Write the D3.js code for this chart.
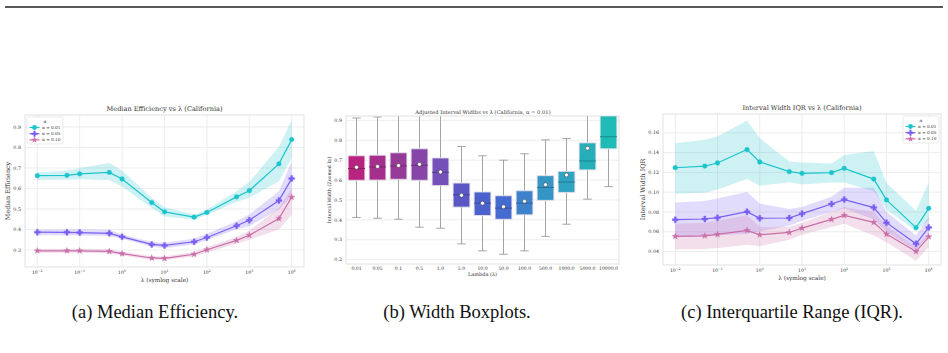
<!DOCTYPE html>
<meta charset="utf-8" />
<script src="https://cdn.jsdelivr.net/npm/d3@7"></script>
<style>
  html, body { margin: 0; padding: 0; background: #fff; overflow: hidden; }
  text { font-family: "DejaVu Serif", serif; fill: #333; }
  .cap { font-family: "Liberation Serif", serif; fill: #111; }
</style>
<div id="fig"></div>
<script>
  // lambda grid shared by all three panels
  var lambdas = [0.01, 0.05, 0.1, 0.5, 1, 5, 10, 50, 100, 500, 1000, 5000, 10000];
  var alphaLabels = ["α = 0.01", "α = 0.05", "α = 0.10"];
  var logTicks = [-2, -1, 0, 1, 2, 3, 4];

  // (a) median efficiency + band
  var eff01 = [0.662, 0.664, 0.671, 0.678, 0.646, 0.531, 0.486, 0.460, 0.483, 0.559, 0.589, 0.720, 0.838];
  var eff01Lo = [0.641, 0.642, 0.645, 0.640, 0.610, 0.505, 0.463, 0.449, 0.470, 0.534, 0.554, 0.635, 0.748];
  var eff01Hi = [0.678, 0.686, 0.700, 0.725, 0.686, 0.554, 0.508, 0.473, 0.497, 0.586, 0.631, 0.805, 0.932];
  var eff05 = [0.387, 0.386, 0.385, 0.381, 0.364, 0.327, 0.322, 0.340, 0.361, 0.418, 0.445, 0.541, 0.648];
  var eff05Lo = [0.372, 0.372, 0.371, 0.368, 0.355, 0.316, 0.308, 0.327, 0.347, 0.401, 0.416, 0.497, 0.562];
  var eff05Hi = [0.400, 0.400, 0.400, 0.398, 0.376, 0.340, 0.335, 0.356, 0.379, 0.440, 0.473, 0.586, 0.732];
  var eff10 = [0.296, 0.296, 0.296, 0.293, 0.282, 0.261, 0.259, 0.279, 0.301, 0.347, 0.372, 0.453, 0.557];
  var eff10Lo = [0.286, 0.286, 0.286, 0.283, 0.273, 0.251, 0.250, 0.268, 0.288, 0.330, 0.350, 0.400, 0.473];
  var eff10Hi = [0.306, 0.306, 0.306, 0.304, 0.292, 0.270, 0.269, 0.290, 0.314, 0.363, 0.395, 0.505, 0.602];

  // (b) boxplots, alpha = 0.01
  var boxLabels = ["0.01", "0.05", "0.1", "0.5", "1.0", "5.0", "10.0", "50.0", "100.0", "500.0", "1000.0", "5000.0", "10000.0"];
  var boxLo = [0.412, 0.408, 0.403, 0.363, 0.358, 0.279, 0.244, 0.227, 0.244, 0.317, 0.378, 0.504, 0.567];
  var boxQ1 = [0.599, 0.600, 0.604, 0.599, 0.572, 0.464, 0.422, 0.403, 0.425, 0.498, 0.538, 0.651, 0.757];
  var boxMed = [0.658, 0.666, 0.671, 0.674, 0.639, 0.526, 0.484, 0.459, 0.484, 0.563, 0.590, 0.696, 0.818];
  var boxQ3 = [0.722, 0.725, 0.737, 0.757, 0.711, 0.585, 0.540, 0.521, 0.546, 0.622, 0.644, 0.787, 0.940];
  var boxHi = [0.912, 0.917, 0.960, 0.980, 0.960, 0.769, 0.722, 0.700, 0.732, 0.802, 0.809, 0.990, 1.100];
  var boxMean = [0.664, 0.668, 0.673, 0.679, 0.641, 0.523, 0.484, 0.466, 0.493, 0.577, 0.626, 0.760, 0.950];
  var boxColors = ["#b8237f", "#a52f8d", "#963a98", "#8745a8", "#7351b8", "#5b58c6", "#4b61cc",
                   "#456bd0", "#3e82cc", "#3596c6", "#2ea3c2", "#26afbb", "#1fbbb7"];

  // (c) IQR of interval width + band
  var iqr01 = [0.1247, 0.1264, 0.1295, 0.1431, 0.1305, 0.1207, 0.1190, 0.1197, 0.1241, 0.1132, 0.0922, 0.0641, 0.0837];
  var iqr01Lo = [0.0983, 0.0993, 0.1027, 0.1132, 0.1064, 0.1100, 0.1078, 0.1098, 0.1098, 0.1010, 0.0824, 0.0607, 0.0715];
  var iqr01Hi = [0.1495, 0.1529, 0.1563, 0.1725, 0.1546, 0.1310, 0.1300, 0.1291, 0.1376, 0.1417, 0.1092, 0.0813, 0.1098];
  var iqr05 = [0.0722, 0.0729, 0.0742, 0.0803, 0.0736, 0.0739, 0.0783, 0.0881, 0.0925, 0.0844, 0.0692, 0.0478, 0.0644];
  var iqr05Lo = [0.0546, 0.0550, 0.0565, 0.0580, 0.0603, 0.0660, 0.0710, 0.0800, 0.0834, 0.0725, 0.0600, 0.0410, 0.0570];
  var iqr05Hi = [0.0895, 0.0910, 0.0935, 0.1003, 0.0885, 0.0830, 0.0850, 0.0953, 0.1044, 0.1044, 0.0800, 0.0563, 0.0750];
  var iqr10 = [0.0553, 0.0559, 0.0573, 0.0614, 0.0569, 0.0593, 0.0637, 0.0725, 0.0766, 0.0695, 0.0576, 0.0400, 0.0549];
  var iqr10Lo = [0.0420, 0.0425, 0.0435, 0.0468, 0.0454, 0.0520, 0.0570, 0.0647, 0.0681, 0.0563, 0.0495, 0.0308, 0.0444];
  var iqr10Hi = [0.0681, 0.0690, 0.0710, 0.0766, 0.0647, 0.0650, 0.0690, 0.0800, 0.0851, 0.0800, 0.0664, 0.0444, 0.0597];

  var lineColors = ["#1ec4cc", "#7a5ff2", "#c96ea8"];
  var symbols = [d3.symbolCircle, d3.symbolCross, d3.symbolStar];
  var symSizes = [18, 20, 13];

  var W = 948, H = 353;
  var svg = d3.select("#fig").append("svg").attr("width", W).attr("height", H);
  svg.append("rect").attr("width", W).attr("height", H).attr("fill", "#fff");

  // top rule
  svg.append("line").attr("x1", 5).attr("x2", 943).attr("y1", 7).attr("y2", 7)
    .attr("stroke", "#222").attr("stroke-width", 1.4);

  var gridCol = "#e8e8e8", frameCol = "#d9d9d9";

  function frame(g, x0, x1, y0, y1) {
    g.append("rect").attr("x", x0).attr("y", y0).attr("width", x1 - x0).attr("height", y1 - y0)
      .attr("fill", "none").attr("stroke", frameCol).attr("stroke-width", 0.8);
  }

  function yAxis(g, y, ticks, fmt, x0, x1) {
    ticks.forEach(function(t) {
      g.append("line").attr("x1", x0).attr("x2", x1).attr("y1", y(t)).attr("y2", y(t))
        .attr("stroke", gridCol).attr("stroke-width", 0.8);
      g.append("text").attr("x", x0 - 4).attr("y", y(t)).attr("dy", "0.35em")
        .attr("text-anchor", "end").attr("font-size", 4.8).text(fmt(t));
    });
  }

  function linePanel(opt) {
    var g = svg.append("g");
    var x = d3.scaleLog().domain([Math.pow(10, -2.29), Math.pow(10, 4.29)]).range([opt.x0, opt.x1]);
    var y = d3.scaleLinear().domain(opt.yDomain).range([opt.y1, opt.y0]);

    // vertical grid + superscript tick labels
    logTicks.forEach(function(e) {
      var xx = x(Math.pow(10, e));
      g.append("line").attr("x1", xx).attr("x2", xx).attr("y1", opt.y0).attr("y2", opt.y1)
        .attr("stroke", gridCol).attr("stroke-width", 0.8);
      var t = g.append("text").attr("x", xx).attr("y", opt.y1 + 7).attr("text-anchor", "middle")
        .attr("font-size", 4.6);
      t.append("tspan").text("10");
      t.append("tspan").attr("dy", -2).attr("font-size", 3.3).text(e < 0 ? "−" + (-e) : e);
    });
    yAxis(g, y, opt.yTicks, opt.fmt, opt.x0, opt.x1);

    var area = d3.area().x(function(d) { return x(d.l); })
      .y0(function(d) { return y(d.lo); }).y1(function(d) { return y(d.hi); });
    var line = d3.line().x(function(d) { return x(d.l); }).y(function(d) { return y(d.v); });

    opt.series.forEach(function(s, k) {
      var pts = lambdas.map(function(l, i) { return { l: l, v: s.v[i], lo: s.lo[i], hi: s.hi[i] }; });
      g.append("path").datum(pts).attr("d", area).attr("fill", lineColors[k]).attr("fill-opacity", 0.22);
    });
    opt.series.forEach(function(s, k) {
      var pts = lambdas.map(function(l, i) { return { l: l, v: s.v[i] }; });
      g.append("path").datum(pts).attr("d", line).attr("fill", "none")
        .attr("stroke", lineColors[k]).attr("stroke-width", 1.2);
      g.selectAll(null).data(pts).enter().append("path")
        .attr("d", d3.symbol().type(symbols[k]).size(symSizes[k]))
        .attr("transform", function(d) { return "translate(" + x(d.l) + "," + y(d.v) + ")"; })
        .attr("fill", lineColors[k]).attr("stroke", lineColors[k]).attr("stroke-width", 0.3);
    });

    frame(g, opt.x0, opt.x1, opt.y0, opt.y1);

    g.append("text").attr("x", (opt.x0 + opt.x1) / 2).attr("y", opt.y0 - 4).attr("text-anchor", "middle")
      .attr("font-size", 6.6).text(opt.title);
    g.append("text").attr("x", (opt.x0 + opt.x1) / 2).attr("y", opt.y1 + 15).attr("text-anchor", "middle")
      .attr("font-size", 5.8).text("λ (symlog scale)");
    g.append("text").attr("transform", "translate(" + opt.ylabX + "," + ((opt.y0 + opt.y1) / 2) + ") rotate(-90)")
      .attr("text-anchor", "middle").attr("font-size", 6.4).text(opt.ylabel);

    // legend
    var lg = g.append("g").attr("transform", "translate(" + opt.legX + "," + opt.legY + ")");
    lg.append("rect").attr("width", 36).attr("height", 27).attr("rx", 1.5)
      .attr("fill", "#fff").attr("fill-opacity", 0.85).attr("stroke", "#dcdcdc").attr("stroke-width", 0.6);
    lg.append("text").attr("x", 18).attr("y", 5.5).attr("text-anchor", "middle").attr("font-size", 4.4)
      .attr("font-style", "italic").text("α");
    alphaLabels.forEach(function(lab, k) {
      var yy = 10.5 + k * 6.2;
      lg.append("line").attr("x1", 2.5).attr("x2", 12.5).attr("y1", yy).attr("y2", yy)
        .attr("stroke", lineColors[k]).attr("stroke-width", 1.2);
      lg.append("path").attr("d", d3.symbol().type(symbols[k]).size(symSizes[k]))
        .attr("transform", "translate(7.5," + yy + ")").attr("fill", lineColors[k]);
      lg.append("text").attr("x", 15).attr("y", yy).attr("dy", "0.35em").attr("font-size", 4.2).text(lab);
    });
  }

  linePanel({
    x0: 25, x1: 304, y0: 115, y1: 267,
    yDomain: [0.217, 0.958], yTicks: [0.3, 0.4, 0.5, 0.6, 0.7, 0.8, 0.9], fmt: d3.format(".1f"),
    title: "Median Efficiency vs λ (California)", ylabel: "Median Efficiency", ylabX: 10,
    legX: 27, legY: 117,
    series: [
      { v: eff01, lo: eff01Lo, hi: eff01Hi },
      { v: eff05, lo: eff05Lo, hi: eff05Hi },
      { v: eff10, lo: eff10Lo, hi: eff10Hi }
    ]
  });

  linePanel({
    x0: 663, x1: 941, y0: 114, y1: 265,
    yDomain: [0.0264, 0.1790], yTicks: [0.04, 0.06, 0.08, 0.10, 0.12, 0.14, 0.16], fmt: d3.format(".2f"),
    title: "Interval Width IQR vs λ (California)", ylabel: "Interval Width IQR", ylabX: 645,
    legX: 903, legY: 116,
    series: [
      { v: iqr01, lo: iqr01Lo, hi: iqr01Hi },
      { v: iqr05, lo: iqr05Lo, hi: iqr05Hi },
      { v: iqr10, lo: iqr10Lo, hi: iqr10Hi }
    ]
  });

  // (b) boxplot panel
  (function() {
    var x0 = 346, x1 = 619, y0 = 116, y1 = 264;
    var g = svg.append("g");
    var x = d3.scaleBand().domain(boxLabels).range([x0, x1]).paddingInner(0.2).paddingOuter(0.1);
    var y = d3.scaleLinear().domain([0.178, 0.922]).range([y1, y0]);

    yAxis(g, y, [0.2, 0.3, 0.4, 0.5, 0.6, 0.7, 0.8, 0.9], d3.format(".1f"), x0, x1);

    svg.append("clipPath").attr("id", "clipB").append("rect")
      .attr("x", x0).attr("y", y0).attr("width", x1 - x0).attr("height", y1 - y0);
    var pg = g.append("g").attr("clip-path", "url(#clipB)");

    boxLabels.forEach(function(lab, i) {
      var cx = x(lab) + x.bandwidth() / 2, bw = x.bandwidth();
      var col = boxColors[i];
      // whiskers
      [[boxLo[i], boxQ1[i]], [boxQ3[i], boxHi[i]]].forEach(function(p) {
        pg.append("line").attr("x1", cx).attr("x2", cx).attr("y1", y(p[0])).attr("y2", y(p[1]))
          .attr("stroke", "#9a9a9a").attr("stroke-width", 0.9);
      });
      [boxLo[i], boxHi[i]].forEach(function(v) {
        pg.append("line").attr("x1", cx - bw / 4).attr("x2", cx + bw / 4).attr("y1", y(v)).attr("y2", y(v))
          .attr("stroke", "#9a9a9a").attr("stroke-width", 0.9);
      });
      pg.append("rect").attr("x", x(lab)).attr("y", y(boxQ3[i])).attr("width", bw)
        .attr("height", y(boxQ1[i]) - y(boxQ3[i]))
        .attr("fill", col).attr("stroke", "#e4dfe8").attr("stroke-width", 0.9);
      pg.append("line").attr("x1", x(lab)).attr("x2", x(lab) + bw).attr("y1", y(boxMed[i])).attr("y2", y(boxMed[i]))
        .attr("stroke", d3.color(col).darker(0.8)).attr("stroke-width", 1);
      pg.append("circle").attr("cx", cx).attr("cy", y(boxMean[i])).attr("r", 2)
        .attr("fill", "#fff").attr("stroke", "#333").attr("stroke-width", 0.5);
      g.append("text").attr("x", cx).attr("y", y1 + 6).attr("text-anchor", "middle")
        .attr("font-size", 4.6).text(lab);
    });

    frame(g, x0, x1, y0, y1);
    g.append("text").attr("x", 483).attr("y", 113.5).attr("text-anchor", "middle")
      .attr("font-size", 5.2).text("Adjusted Interval Widths vs λ (California, α = 0.01)");
    g.append("text").attr("x", (x0 + x1) / 2).attr("y", y1 + 12).attr("text-anchor", "middle")
      .attr("font-size", 5).text("Lambda (λ)");
    g.append("text").attr("transform", "translate(331," + ((y0 + y1) / 2) + ") rotate(-90)")
      .attr("text-anchor", "middle").attr("font-size", 4.8).text("Interval Width (Zoomed In)");
  })();

  // captions
  var caps = [["(a) Median Efficiency.", 155], ["(b) Width Boxplots.", 457], ["(c) Interquartile Range (IQR).", 792]];
  caps.forEach(function(c) {
    svg.append("text").attr("class", "cap").attr("x", c[1]).attr("y", 318).attr("text-anchor", "middle")
      .attr("font-size", 18.5).text(c[0]);
  });
</script>
